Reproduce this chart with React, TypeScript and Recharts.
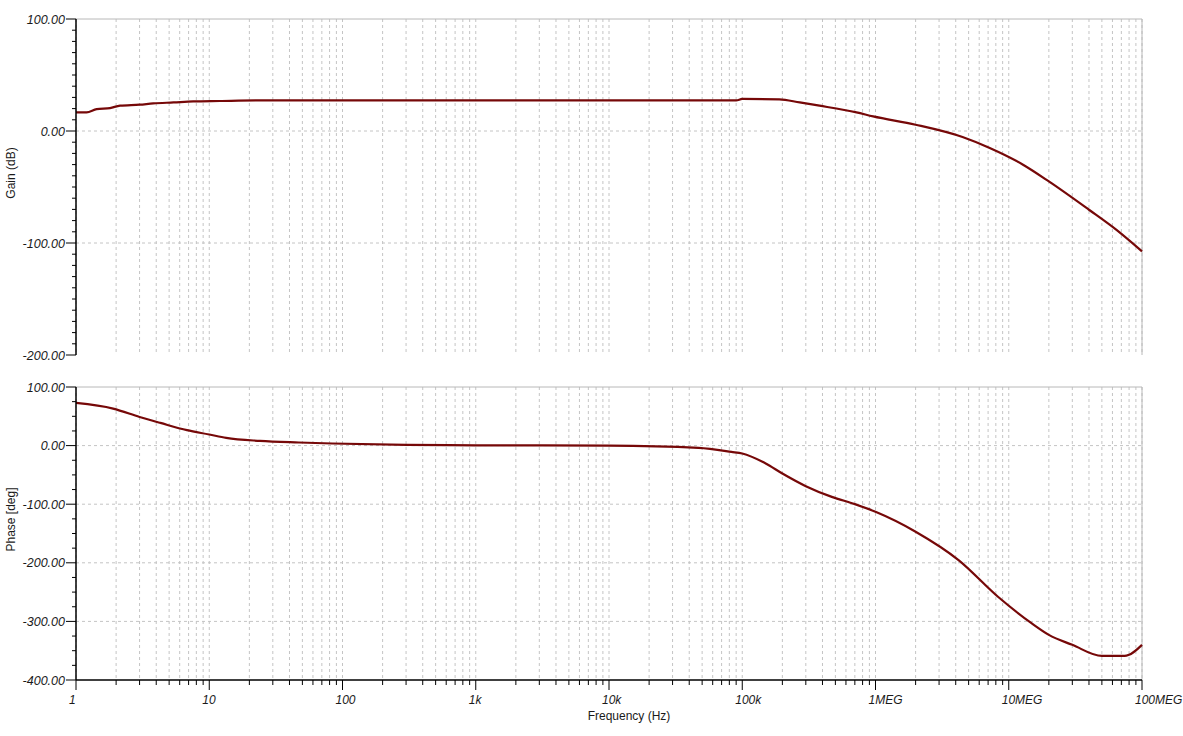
import React from "react";
import { LineChart, Line, XAxis, YAxis, CartesianGrid, ReferenceLine } from "recharts";

// x axis: log frequency, 1 Hz .. 100 MHz
const DECADES = [1, 10, 100, 1e3, 1e4, 1e5, 1e6, 1e7, 1e8];
const DECADE_LABELS = ["1", "10", "100", "1k", "10k", "100k", "1MEG", "10MEG", "100MEG"];
const MULTS = [1, 2, 3, 4, 5, 6, 7, 8, 9];

// gain trace (dB)
const GAIN_FREQ = [1, 1.2, 1.43, 1.8, 2.14, 3, 3.8, 5.4, 7.6, 12, 24, 100, 1e3, 1e4, 9e4, 1e5, 1.9e5, 2.7e5, 3.8e5, 7.2e5, 9.6e5, 2e6, 4.5e6, 7.2e6, 1.28e7, 2e7, 4e7, 6.4e7, 1e8];
const GAIN_DB = [16.6, 16.6, 19.6, 20.5, 22.6, 23.5, 24.6, 25.5, 26.4, 26.8, 27.3, 27.3, 27.3, 27.3, 27.3, 28.6, 28.3, 25.5, 22.6, 16.6, 13.0, 5.6, -5.4, -15.2, -30.1, -45, -70.3, -88.1, -107.5];

// phase trace (deg)
const PHASE_FREQ = [1, 1.9, 3, 4.3, 6.8, 10, 13.4, 24, 47, 84, 300, 1e3, 1e4, 4.7e4, 8.3e4, 1e5, 1.5e5, 2e5, 3e5, 4.7e5, 7e5, 1e6, 2e6, 4.2e6, 8.3e6, 1.48e7, 2e7, 3e7, 5e7, 7.4e7, 8e7, 1e8];
const PHASE_DEG = [72.8, 63.2, 48.9, 38.7, 26.3, 18.9, 13.1, 8.0, 5.3, 3.6, 1.2, 0.5, 0, -3.9, -10.7, -13.5, -30.5, -47.6, -69.2, -87.5, -99.9, -113, -147, -195.4, -258, -303, -323, -340, -359, -359, -357, -340];

const GAIN_TICKS = Array.from({ length: 31 }, (_, i) => -200 + i * 10);
const GAIN_LABELED = [-200, -100, 0, 100];
const PHASE_TICKS = Array.from({ length: 21 }, (_, i) => -400 + i * 25);
const PHASE_LABELED = [-400, -300, -200, -100, 0, 100];

const FREQ_TICKS = DECADES.slice(0, -1).flatMap((d) => MULTS.map((m) => d * m)).concat([1e8]);

const FONT = "'Liberation Sans', Arial, sans-serif";
const TRACE = "#760808";
const GRID = "#c4c4c4";

const gainData = GAIN_FREQ.map((f, i) => ({ f, v: GAIN_DB[i] }));
const phaseData = PHASE_FREQ.map((f, i) => ({ f, v: PHASE_DEG[i] }));

function makeYTick(labeled: number[]) {
  return (props: any) => {
    const { x, y, payload } = props;
    const major = labeled.includes(payload.value);
    return (
      <g>
        <line x1={x - (major ? 10 : 4)} x2={x} y1={y} y2={y} stroke="#000" strokeWidth={1} />
        {major && (
          <text x={x - 11} y={y} dy={4.5} textAnchor="end" fontSize={12.5} fontStyle="italic" fontFamily={FONT} fill="#1a1a1a">
            {payload.value.toFixed(2)}
          </text>
        )}
      </g>
    );
  };
}

const FreqTick = (props: any) => {
  const { x, y, payload } = props;
  const idx = DECADES.indexOf(payload.value);
  const major = idx >= 0;
  return (
    <g>
      <line x1={x} x2={x} y1={y} y2={y + (major ? 10 : 5)} stroke="#000" strokeWidth={1} />
      {major && (
        <text x={x - 7} y={y + 24} textAnchor="start" fontSize={12} fontStyle="italic" fontFamily={FONT} fill="#1a1a1a">
          {DECADE_LABELS[idx]}
        </text>
      )}
    </g>
  );
};

// top panel keeps its tick positions for the grid but draws nothing
const NoTick = () => <g />;

function YTitle(text: string) {
  return (props: any) => {
    const vb = props.viewBox;
    const cy = vb.y + vb.height / 2 - 14;
    return (
      <text x={15} y={cy} transform={`rotate(-90, 15, ${cy})`} textAnchor="middle" fontSize={12} fontFamily={FONT} fill="#1a1a1a">
        {text}
      </text>
    );
  };
}

const FreqTitle = (props: any) => {
  const vb = props.viewBox;
  return (
    <text x={vb.x + vb.width / 2 + 20} y={vb.y + 40} textAnchor="middle" fontSize={12} fontFamily={FONT} fill="#1a1a1a">
      Frequency (Hz)
    </text>
  );
};

export default function App() {
  return (
    <div style={{ position: "absolute", left: 0, top: 0, width: 1183, height: 736, background: "#fff" }}>
      {/* Gain panel */}
      <div style={{ position: "absolute", left: 0, top: 0 }}>
        <LineChart width={1183} height={370} data={gainData} margin={{ top: 19, right: 41, bottom: 15, left: 0 }}>
          <CartesianGrid horizontal={false} stroke={GRID} strokeDasharray="3 3" />
          <XAxis
            dataKey="f" type="number" scale="log" domain={[1, 1e8]} ticks={FREQ_TICKS}
            interval={0} height={0} tickSize={0} tickMargin={0} tick={<NoTick />} tickLine={false}
            axisLine={{ stroke: "#000", strokeWidth: 1.5 }}
          />
          <YAxis
            type="number" domain={[-200, 100]} ticks={GAIN_TICKS} interval={0} width={76}
            tickSize={0} tickMargin={0} tickLine={false} tick={makeYTick(GAIN_LABELED)}
            axisLine={{ stroke: "#000", strokeWidth: 1.5 }}
            label={{ content: YTitle("Gain (dB)") }}
          />
          <ReferenceLine y={0} stroke={GRID} strokeDasharray="3 3" />
          <ReferenceLine y={-100} stroke={GRID} strokeDasharray="3 3" />
          <ReferenceLine y={100} stroke="#b8b8b8" />
          <ReferenceLine x={1e8} stroke="#b8b8b8" />
          <Line type="monotone" dataKey="v" stroke={TRACE} strokeWidth={2.2} dot={false} isAnimationActive={false} />
        </LineChart>
      </div>

      {/* Phase panel */}
      <div style={{ position: "absolute", left: 0, top: 370 }}>
        <LineChart width={1183} height={366} data={phaseData} margin={{ top: 17, right: 41, bottom: 0, left: 0 }}>
          <CartesianGrid horizontal={false} stroke={GRID} strokeDasharray="3 3" />
          <XAxis
            dataKey="f" type="number" scale="log" domain={[1, 1e8]} ticks={FREQ_TICKS}
            interval={0} height={56} tickSize={0} tickMargin={0} tickLine={false} tick={<FreqTick />}
            axisLine={{ stroke: "#000", strokeWidth: 1.5 }}
            label={{ content: FreqTitle }}
          />
          <YAxis
            type="number" domain={[-400, 100]} ticks={PHASE_TICKS} interval={0} width={76}
            tickSize={0} tickMargin={0} tickLine={false} tick={makeYTick(PHASE_LABELED)}
            axisLine={{ stroke: "#000", strokeWidth: 1.5 }}
            label={{ content: YTitle("Phase [deg]") }}
          />
          {[0, -100, -200, -300].map((v) => (
            <ReferenceLine key={v} y={v} stroke={GRID} strokeDasharray="3 3" />
          ))}
          <ReferenceLine y={100} stroke="#b8b8b8" />
          <ReferenceLine x={1e8} stroke="#b8b8b8" />
          <Line type="monotone" dataKey="v" stroke={TRACE} strokeWidth={2.2} dot={false} isAnimationActive={false} />
        </LineChart>
      </div>
    </div>
  );
}
